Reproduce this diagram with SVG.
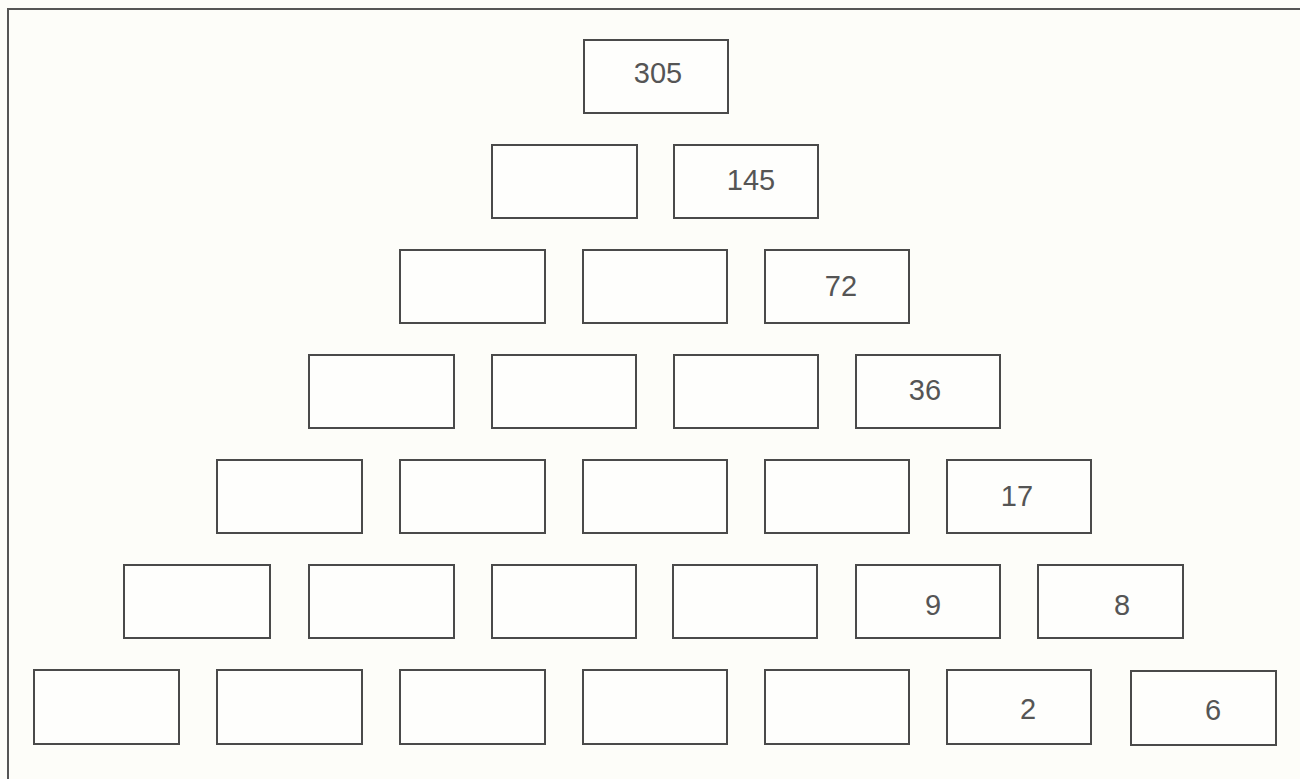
<svg xmlns="http://www.w3.org/2000/svg" width="1300" height="779" viewBox="0 0 1300 779">
<style>
.b{fill:#fefefc;stroke:#4a4a4a;stroke-width:2}
.t{font-family:"Liberation Sans",Arial,sans-serif;font-size:29px;fill:#555;text-anchor:middle}
</style>
<rect width="1300" height="779" fill="#fdfdf9"/>
<path d="M8 779V9H1300" fill="none" stroke="#555" stroke-width="2"/>
<g id="r1">
<g id="n305"><rect class="b" x="584" y="40" width="144" height="73"/><text class="t" x="658" y="83">305</text></g>
</g>
<g id="r2">
<g id="n2a"><rect class="b" x="492" y="145" width="145" height="73"/></g>
<g id="n145"><rect class="b" x="674" y="145" width="144" height="73"/><text class="t" x="751" y="190">145</text></g>
</g>
<g id="r3">
<g id="n3a"><rect class="b" x="400" y="250" width="145" height="73"/></g>
<g id="n3b"><rect class="b" x="583" y="250" width="144" height="73"/></g>
<g id="n72"><rect class="b" x="765" y="250" width="144" height="73"/><text class="t" x="841" y="296">72</text></g>
</g>
<g id="r4">
<g id="n4a"><rect class="b" x="309" y="355" width="145" height="73"/></g>
<g id="n4b"><rect class="b" x="492" y="355" width="144" height="73"/></g>
<g id="n4c"><rect class="b" x="674" y="355" width="144" height="73"/></g>
<g id="n36"><rect class="b" x="856" y="355" width="144" height="73"/><text class="t" x="925" y="400">36</text></g>
</g>
<g id="r5">
<g id="n5a"><rect class="b" x="217" y="460" width="145" height="73"/></g>
<g id="n5b"><rect class="b" x="400" y="460" width="145" height="73"/></g>
<g id="n5c"><rect class="b" x="583" y="460" width="144" height="73"/></g>
<g id="n5d"><rect class="b" x="765" y="460" width="144" height="73"/></g>
<g id="n17"><rect class="b" x="947" y="460" width="144" height="73"/><text class="t" x="1017" y="506">17</text></g>
</g>
<g id="r6">
<g id="n6a"><rect class="b" x="124" y="565" width="146" height="73"/></g>
<g id="n6b"><rect class="b" x="309" y="565" width="145" height="73"/></g>
<g id="n6c"><rect class="b" x="492" y="565" width="144" height="73"/></g>
<g id="n6d"><rect class="b" x="673" y="565" width="144" height="73"/></g>
<g id="n9"><rect class="b" x="856" y="565" width="144" height="73"/><text class="t" x="933" y="615">9</text></g>
<g id="n8"><rect class="b" x="1038" y="565" width="145" height="73"/><text class="t" x="1122" y="615">8</text></g>
</g>
<g id="r7">
<g id="n7a"><rect class="b" x="34" y="670" width="145" height="74"/></g>
<g id="n7b"><rect class="b" x="217" y="670" width="145" height="74"/></g>
<g id="n7c"><rect class="b" x="400" y="670" width="145" height="74"/></g>
<g id="n7d"><rect class="b" x="583" y="670" width="144" height="74"/></g>
<g id="n7e"><rect class="b" x="765" y="670" width="144" height="74"/></g>
<g id="n2"><rect class="b" x="947" y="670" width="144" height="74"/><text class="t" x="1028" y="719">2</text></g>
<g id="n6"><rect class="b" x="1131" y="671" width="145" height="74"/><text class="t" x="1213" y="720">6</text></g>
</g>
<g id="connectors"/>
</svg>
